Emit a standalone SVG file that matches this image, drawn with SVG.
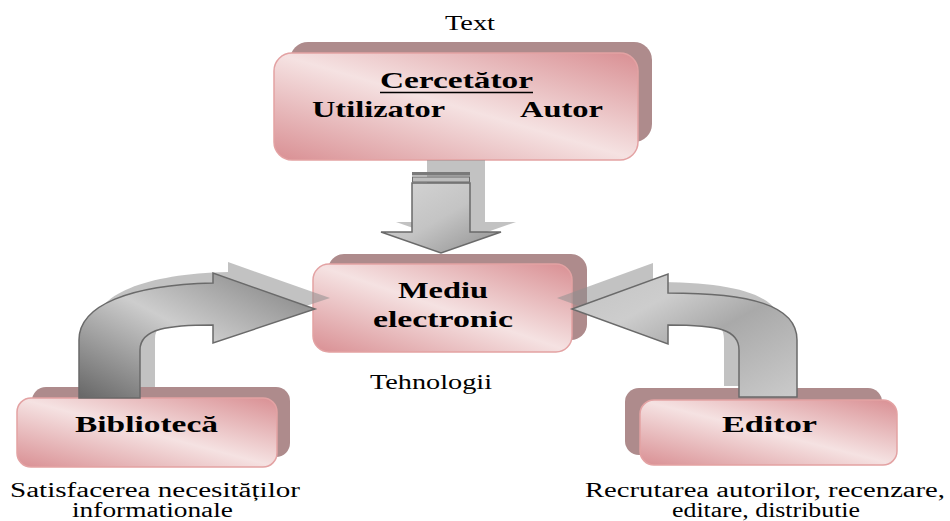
<svg xmlns="http://www.w3.org/2000/svg" width="950" height="521" viewBox="0 0 950 521">
<defs>
<linearGradient id="boxGrad" x1="0" y1="1" x2="1" y2="0">
<stop offset="0" stop-color="#d98f93"/>
<stop offset="0.5" stop-color="#f5e2e2"/>
<stop offset="1" stop-color="#d98f93"/>
</linearGradient>
<linearGradient id="downGrad" x1="0" y1="0" x2="1" y2="1">
<stop offset="0" stop-color="#d6d6d6"/>
<stop offset="0.5" stop-color="#c4c4c4"/>
<stop offset="1" stop-color="#8e8e8e"/>
</linearGradient>
<linearGradient id="leftGrad" x1="0" y1="1" x2="1" y2="0">
<stop offset="0" stop-color="#666666"/>
<stop offset="0.5" stop-color="#cdcdcd"/>
<stop offset="1" stop-color="#7c7c7c"/>
</linearGradient>
<linearGradient id="rightGrad" x1="1" y1="1" x2="0" y2="0">
<stop offset="0" stop-color="#cbcbcb"/>
<stop offset="0.45" stop-color="#a9a9a9"/>
<stop offset="0.7" stop-color="#cdcdcd"/>
<stop offset="1" stop-color="#c2c2c2"/>
</linearGradient>
<style>
.shadow{fill:#ae8b8c;}
.box{fill:url(#boxGrad);stroke:#e3a2a3;stroke-width:1.5;}
.lbl{font-weight:bold;font-size:24px;fill:#000;}
.cap{font-size:20px;fill:#000;}
.ashadow{fill:#909090;opacity:0.55;}
.arrow{stroke:#6a6a6a;stroke-width:1.5;}
</style>
</defs>

<g font-family="'Liberation Serif', 'DejaVu Serif', 'Times New Roman', serif">
<text class="cap" x="445" y="30" textLength="50" lengthAdjust="spacingAndGlyphs">Text</text>

<g id="node-cercetator">
<rect class="shadow" x="290" y="42" width="362" height="100" rx="18"/>
<rect class="box" x="274" y="53" width="364" height="107" rx="18"/>
<text class="lbl" x="380" y="88" textLength="153" lengthAdjust="spacingAndGlyphs">Cercetător</text>
<line x1="380" y1="92.5" x2="533" y2="92.5" stroke="#000" stroke-width="1.6"/>
<text class="lbl" x="312" y="117" textLength="133" lengthAdjust="spacingAndGlyphs">Utilizator</text>
<text class="lbl" x="520" y="117" textLength="83" lengthAdjust="spacingAndGlyphs">Autor</text>
</g>

<g id="node-mediu">
<rect class="shadow" x="328" y="254" width="259" height="86" rx="16"/>
<rect class="box" x="313" y="264" width="259" height="88" rx="16"/>
<text class="lbl" x="398" y="298" textLength="90" lengthAdjust="spacingAndGlyphs">Mediu</text>
<text class="lbl" x="373" y="327" textLength="140" lengthAdjust="spacingAndGlyphs">electronic</text>
</g>
<text class="cap" x="370" y="389" textLength="122" lengthAdjust="spacingAndGlyphs">Tehnologii</text>

<g id="node-biblioteca">
<rect class="shadow" x="32" y="387" width="258" height="70" rx="14"/>
<rect class="box" x="17" y="398" width="260" height="69" rx="14"/>
<text class="lbl" x="75" y="432" textLength="143" lengthAdjust="spacingAndGlyphs">Bibliotecă</text>
</g>
<text class="cap" x="10" y="497" textLength="290" lengthAdjust="spacingAndGlyphs">Satisfacerea necesităților</text>
<text class="cap" x="72" y="517" textLength="161" lengthAdjust="spacingAndGlyphs">informationale</text>

<g id="node-editor">
<rect class="shadow" x="625" y="388" width="257" height="67" rx="14"/>
<rect class="box" x="640" y="400" width="257" height="65" rx="14"/>
<text class="lbl" x="722" y="432" textLength="95" lengthAdjust="spacingAndGlyphs">Editor</text>
</g>
<text class="cap" x="585" y="497" textLength="360" lengthAdjust="spacingAndGlyphs">Recrutarea autorilor, recenzare,</text>
<text class="cap" x="672" y="517" textLength="188" lengthAdjust="spacingAndGlyphs">editare, distributie</text>
</g>

<g id="connectors">
<g id="arrow-down">
<path class="ashadow" d="M427,160 L427,222 L396,222 L456,243 L516,222 L485,222 L485,160 Z"/>
<path class="arrow" fill="url(#downGrad)" d="M412,183 L412,232 L381,232 L441,253 L501,232 L470,232 L470,183 Z"/>
<rect x="412" y="172" width="58" height="3.5" fill="#7a7a7a"/>
<rect x="412.5" y="177" width="57" height="5" fill="#bdbdbd" stroke="#6a6a6a" stroke-width="1"/>
</g>
<g id="arrow-left">
<path class="ashadow" d="M94,387 L94,329 C94,294 145,274 228,272 L228,262 L330,298 L228,332 L228,314 C185,314 155,317 155,339 L155,387 Z"/>
<path class="arrow" fill="url(#leftGrad)" d="M79,398 L79,340 C79,305 130,285 213,283 L213,273 L315,309 L213,343 L213,325 C170,325 140,328 140,350 L140,398 Z"/>
</g>
<g id="arrow-right">
<path class="ashadow" d="M782,386 L782,329 C782,294 735,282 653,282 L653,263 L557,298 L653,333 L653,314 C705,314 724,319 724,339 L724,386 Z"/>
<path class="arrow" fill="url(#rightGrad)" d="M797,397 L797,340 C797,305 750,293 668,293 L668,274 L572,309 L668,344 L668,325 C720,325 739,330 739,350 L739,397 Z"/>
</g>
</g>
</svg>
